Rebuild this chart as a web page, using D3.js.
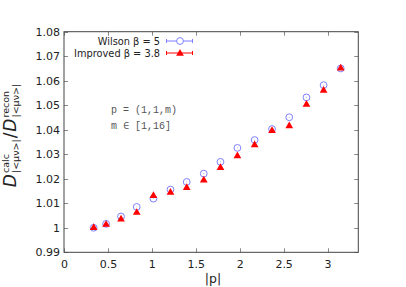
<!DOCTYPE html>
<html><head><meta charset="utf-8">
<script src="https://cdn.jsdelivr.net/npm/d3@7"></script>
<style>body{margin:0;background:#fff}svg{display:block}</style>
</head><body>
<svg id="c" width="406" height="287"></svg>
<script>
const pAbs = [0.338, 0.479, 0.649, 0.828, 1.018, 1.212, 1.397, 1.591, 1.781, 1.974, 2.170, 2.368, 2.564, 2.760, 2.955, 3.150];
const wilson = [1.0000, 1.0016, 1.0046, 1.0085, 1.0119, 1.0156, 1.0187, 1.0221, 1.0269, 1.0326, 1.0358, 1.0403, 1.0451, 1.0532, 1.0582, 1.0650];
const wilsonErr = [0.0001,0.0001,0.0001,0.0001,0.00012,0.00012,0.00012,0.00012,0.00012,0.00012,0.00012,0.00012,0.00012,0.00012,0.00012,0.00012];
const improved = [1.0002, 1.0015, 1.0037, 1.0064, 1.0133, 1.0146, 1.0165, 1.0196, 1.0247, 1.0295, 1.0340, 1.0398, 1.0417, 1.0505, 1.0562, 1.0653];
const improvedErr = [0.0001,0.0001,0.0001,0.0001,0.0001,0.0001,0.0001,0.0001,0.0001,0.0001,0.0001,0.0001,0.0001,0.0001,0.0001,0.0001];
const xTicks = [0, 0.5, 1, 1.5, 2, 2.5, 3];
const yTicks = [0.99, 1, 1.01, 1.02, 1.03, 1.04, 1.05, 1.06, 1.07, 1.08];
const seriesNames = ["Wilson \u03b2 = 5", "Improved \u03b2 = 3.8"];
const noteLines = ["p = (1,1,m)", "m \u2208 [1,16]"];

const svg = d3.select("#c");
const L = 64, R = 358.3, T = 31.7, B = 252.3;
const x = d3.scaleLinear().domain([0, 3.35]).range([L, R]);
const y = d3.scaleLinear().domain([0.99, 1.08]).range([B, T]);
const font = "DejaVu Sans, sans-serif";
const blue = "#7f7fff", red = "#ff0000";

svg.append("rect").attr("width",406).attr("height",287).attr("fill","#fff");

// ticks (inward, mirrored)
const tk = 4;
const tg = svg.append("g").attr("stroke","#888").attr("stroke-width",1);
xTicks.forEach(v=>{
  const px = Math.round(x(v))+0.5;
  tg.append("line").attr("x1",px).attr("x2",px).attr("y1",B).attr("y2",B-tk);
  tg.append("line").attr("x1",px).attr("x2",px).attr("y1",T).attr("y2",T+tk);
});
yTicks.forEach(v=>{
  const py = Math.round(y(v))+0.5;
  tg.append("line").attr("x1",L).attr("x2",L+tk).attr("y1",py).attr("y2",py);
  tg.append("line").attr("x1",R).attr("x2",R-tk).attr("y1",py).attr("y2",py);
});

const xAxis = svg.append("g").attr("transform",`translate(0,${B})`)
  .call(d3.axisBottom(x).tickValues(xTicks).tickSize(0).tickPadding(8).tickFormat(d=>d3.format("")(d)));
const yAxis = svg.append("g").attr("transform",`translate(${L},0)`)
  .call(d3.axisLeft(y).tickValues(yTicks).tickSize(0).tickPadding(4).tickFormat(d=>d3.format("")(+d.toFixed(2))));
[xAxis,yAxis].forEach(a=>{
  a.select(".domain").remove();
  a.selectAll("text").attr("font-family",font).attr("font-size",11).attr("fill","#222");
});

svg.append("rect").attr("x",L).attr("y",T).attr("width",R-L).attr("height",B-T)
  .attr("fill","none").attr("stroke","#444").attr("stroke-width",1);

const circ = d3.symbol().type(d3.symbolCircle).size(Math.PI*3.4*3.4);
const tri = d3.symbol().type(d3.symbolTriangle).size(26);
const gw = svg.append("g");
pAbs.forEach((p,i)=>{
  gw.append("line").attr("x1",x(p)).attr("x2",x(p)).attr("y1",y(wilson[i]-wilsonErr[i])).attr("y2",y(wilson[i]+wilsonErr[i]))
    .attr("stroke",blue).attr("stroke-width",1);
  gw.append("path").attr("d",circ()).attr("transform",`translate(${x(p)},${y(wilson[i])})`)
    .attr("fill","none").attr("stroke",blue).attr("stroke-width",1);
});
const gi = svg.append("g");
pAbs.forEach((p,i)=>{
  gi.append("line").attr("x1",x(p)).attr("x2",x(p)).attr("y1",y(improved[i]-improvedErr[i])).attr("y2",y(improved[i]+improvedErr[i]))
    .attr("stroke",red).attr("stroke-width",1);
  gi.append("path").attr("d",tri()).attr("transform",`translate(${x(p)},${y(improved[i])+0.5})`)
    .attr("fill",red);
});

// legend
const lg = svg.append("g");
[[45,blue,"c"],[57,red,"t"]].forEach((r,i)=>{
  const ly = r[0]-4;
  lg.append("text").attr("x",160).attr("y",r[0]).attr("text-anchor","end")
    .attr("font-family",font).attr("font-size",9.8).attr("fill","#222").text(seriesNames[i]);
  lg.append("line").attr("x1",166).attr("x2",193).attr("y1",ly).attr("y2",ly).attr("stroke",r[1]);
  lg.append("line").attr("x1",166.5).attr("x2",166.5).attr("y1",ly-2).attr("y2",ly+2).attr("stroke",r[1]);
  lg.append("line").attr("x1",192.5).attr("x2",192.5).attr("y1",ly-2).attr("y2",ly+2).attr("stroke",r[1]);
  if(r[2]==="c") lg.append("path").attr("d",circ()).attr("transform",`translate(180,${ly})`).attr("fill","#fff").attr("stroke",blue);
  else lg.append("path").attr("d",tri()).attr("transform",`translate(180,${ly+0.5})`).attr("fill",red);
});

noteLines.forEach((t,i)=>{
  svg.append("text").attr("x",111).attr("y",113+i*15.7).attr("font-family","Liberation Mono, DejaVu Sans Mono, monospace")
    .attr("font-size",10).attr("fill","#555").attr("xml:space","preserve").text(t);
});

svg.append("text").attr("x",213).attr("y",283).attr("text-anchor","middle")
  .attr("font-family",font).attr("font-size",12.5).attr("fill","#222").text("|p|");

// y label
const yl = svg.append("g");
let cx = 0;
function piece(txt, size, dy, italic){
  const t = yl.append("text").attr("x",cx).attr("y",dy).attr("font-family",font).attr("font-size",size)
    .attr("fill","#222").attr("font-style",italic?"italic":"normal").text(txt);
  return t.node().getComputedTextLength();
}
function frac(sup, sub){
  const w1 = piece("D",17,0,true); const x0 = cx + w1 + 1;
  cx = x0; const ws = piece(sup,9.5,-7.5,false);
  cx = x0; const wb = piece(sub,9.5,2.5,false);
  cx = x0 + Math.max(ws,wb) + 1;
}
frac("calc","|<\u03bc\u03bd>|");
const wsl = piece("/",17,0,false); cx += wsl + 1;
frac("recon","|<\u03bc\u03bd>|");
const total = cx;
yl.attr("transform",`translate(16,${135+total/2}) rotate(-90)`);
</script>
</body></html>
